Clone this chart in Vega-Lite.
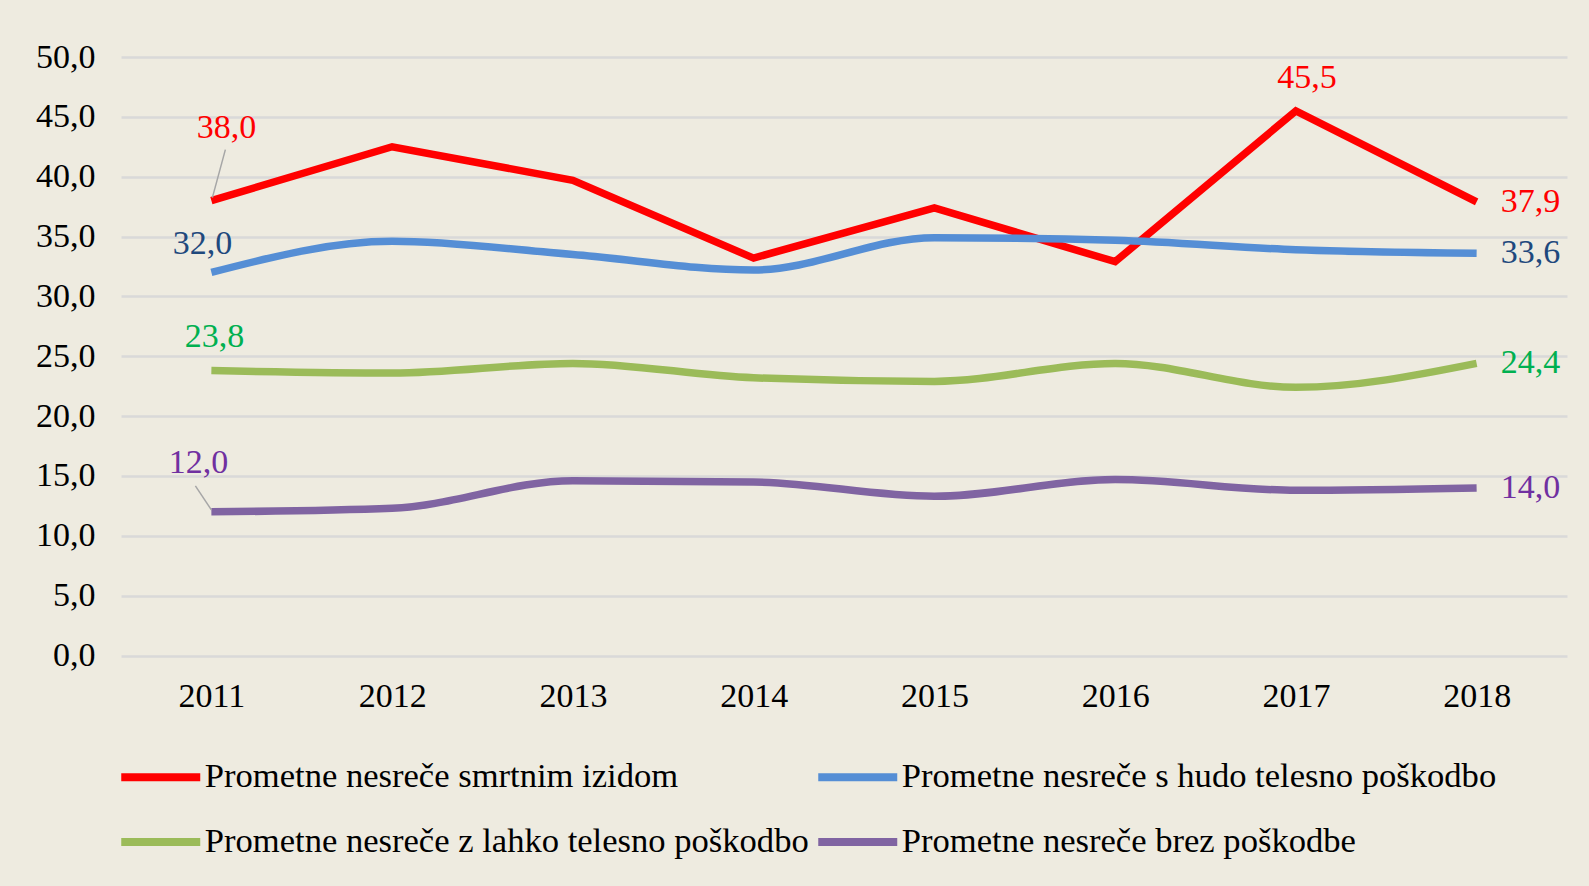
{
  "$schema": "https://vega.github.io/schema/vega-lite/v6.json",
  "width": 1446,
  "height": 598.5,
  "autosize": {"type": "none"},
  "padding": {"left": 121, "top": 57, "right": 22, "bottom": 230.5},
  "background": "#EEEBE0",
  "config": {
    "locale": {"number": {"decimal": ",", "thousands": ".", "grouping": [3], "currency": ["", " €"]}},
    "view": {"stroke": null},
    "font": "Liberation Serif"
  },
  "data": {
    "values": [
      {"year": "2011", "series": "Prometne nesreče smrtnim izidom", "value": 38.0},
      {"year": "2012", "series": "Prometne nesreče smrtnim izidom", "value": 42.5},
      {"year": "2013", "series": "Prometne nesreče smrtnim izidom", "value": 39.7},
      {"year": "2014", "series": "Prometne nesreče smrtnim izidom", "value": 33.2},
      {"year": "2015", "series": "Prometne nesreče smrtnim izidom", "value": 37.4},
      {"year": "2016", "series": "Prometne nesreče smrtnim izidom", "value": 32.9},
      {"year": "2017", "series": "Prometne nesreče smrtnim izidom", "value": 45.5},
      {"year": "2018", "series": "Prometne nesreče smrtnim izidom", "value": 37.9},
      {"year": "2011", "series": "Prometne nesreče s hudo telesno poškodbo", "value": 32.0},
      {"year": "2012", "series": "Prometne nesreče s hudo telesno poškodbo", "value": 34.6},
      {"year": "2013", "series": "Prometne nesreče s hudo telesno poškodbo", "value": 33.5},
      {"year": "2014", "series": "Prometne nesreče s hudo telesno poškodbo", "value": 32.2},
      {"year": "2015", "series": "Prometne nesreče s hudo telesno poškodbo", "value": 34.9},
      {"year": "2016", "series": "Prometne nesreče s hudo telesno poškodbo", "value": 34.7},
      {"year": "2017", "series": "Prometne nesreče s hudo telesno poškodbo", "value": 33.9},
      {"year": "2018", "series": "Prometne nesreče s hudo telesno poškodbo", "value": 33.6},
      {"year": "2011", "series": "Prometne nesreče z lahko telesno poškodbo", "value": 23.8},
      {"year": "2012", "series": "Prometne nesreče z lahko telesno poškodbo", "value": 23.6},
      {"year": "2013", "series": "Prometne nesreče z lahko telesno poškodbo", "value": 24.4},
      {"year": "2014", "series": "Prometne nesreče z lahko telesno poškodbo", "value": 23.2},
      {"year": "2015", "series": "Prometne nesreče z lahko telesno poškodbo", "value": 22.9},
      {"year": "2016", "series": "Prometne nesreče z lahko telesno poškodbo", "value": 24.4},
      {"year": "2017", "series": "Prometne nesreče z lahko telesno poškodbo", "value": 22.4},
      {"year": "2018", "series": "Prometne nesreče z lahko telesno poškodbo", "value": 24.4},
      {"year": "2011", "series": "Prometne nesreče brez poškodbe", "value": 12.0},
      {"year": "2012", "series": "Prometne nesreče brez poškodbe", "value": 12.3},
      {"year": "2013", "series": "Prometne nesreče brez poškodbe", "value": 14.6},
      {"year": "2014", "series": "Prometne nesreče brez poškodbe", "value": 14.5},
      {"year": "2015", "series": "Prometne nesreče brez poškodbe", "value": 13.3},
      {"year": "2016", "series": "Prometne nesreče brez poškodbe", "value": 14.7},
      {"year": "2017", "series": "Prometne nesreče brez poškodbe", "value": 13.8},
      {"year": "2018", "series": "Prometne nesreče brez poškodbe", "value": 14.0}
    ]
  },
  "encoding": {
    "x": {
      "field": "year", "type": "ordinal",
      "scale": {"type": "point", "padding": 0.5},
      "axis": {"title": null, "labelAngle": 0, "domain": false, "ticks": false, "grid": false,
               "labelFontSize": 34, "labelColor": "#000000", "labelPadding": 24, "labelFont": "Liberation Serif"}
    },
    "y": {
      "field": "value", "type": "quantitative",
      "scale": {"domain": [0, 50], "nice": false},
      "axis": {"title": null, "values": [0, 5, 10, 15, 20, 25, 30, 35, 40, 45, 50], "format": ".1f",
               "domain": false, "ticks": false, "grid": true, "gridColor": "#D9D9D9", "gridWidth": 2.5,
               "labelFontSize": 34, "labelColor": "#000000", "labelPadding": 26, "labelFont": "Liberation Serif"}
    }
  },
  "layer": [
    {
      "transform": [{"filter": "datum.series == 'Prometne nesreče smrtnim izidom'"}],
      "mark": {"type": "line", "strokeWidth": 7.5, "interpolate": "linear"},
      "encoding": {
        "color": {
          "field": "series", "type": "nominal",
          "scale": {
            "domain": ["Prometne nesreče smrtnim izidom", "Prometne nesreče s hudo telesno poškodbo", "Prometne nesreče z lahko telesno poškodbo", "Prometne nesreče brez poškodbe"],
            "range": ["#FF0000", "#558ED5", "#9BBB59", "#8064A2"]
          },
          "legend": {
            "title": null, "orient": "none", "direction": "horizontal", "legendX": 15.75, "legendY": 696, "columns": 2,
            "symbolType": "M-2,0L2,0", "symbolSize": 1560, "symbolStrokeWidth": 8,
            "labelFontSize": 34.6, "labelFont": "Liberation Serif", "labelColor": "#000000",
            "labelOffset": 20, "rowPadding": 24, "columnPadding": -7, "labelLimit": 1000, "padding": 0
          }
        }
      }
    },
    {
      "transform": [{"filter": "datum.series != 'Prometne nesreče smrtnim izidom'"}],
      "mark": {"type": "line", "strokeWidth": 7.5, "interpolate": "monotone"},
      "encoding": {"color": {"field": "series", "type": "nominal"}}
    },
    {
      "transform": [{"filter": "datum.year == '2011' && datum.series == 'Prometne nesreče smrtnim izidom'"}],
      "mark": {"type": "rule", "color": "#A6A6A6", "strokeWidth": 1.5, "xOffset": 1, "yOffset": -3, "x2Offset": 14, "y2Offset": -51},
      "encoding": {"x2": {"field": "year"}, "y2": {"field": "value"}}
    },
    {
      "transform": [{"filter": "datum.year == '2011' && datum.series == 'Prometne nesreče brez poškodbe'"}],
      "mark": {"type": "rule", "color": "#A6A6A6", "strokeWidth": 1.5, "xOffset": 0, "yOffset": -2, "x2Offset": -16, "y2Offset": -26},
      "encoding": {"x2": {"field": "year"}, "y2": {"field": "value"}}
    },
    {
      "transform": [{"filter": "datum.year == '2011' && datum.series == 'Prometne nesreče smrtnim izidom'"}],
      "mark": {"type": "text", "fontSize": 34, "font": "Liberation Serif", "align": "center", "baseline": "alphabetic", "dx": 15, "dy": -63},
      "encoding": {
        "text": {"field": "value", "type": "quantitative", "format": ".1f"},
        "fill": {"field": "series", "type": "nominal", "legend": null,
                 "scale": {"domain": ["Prometne nesreče smrtnim izidom", "Prometne nesreče s hudo telesno poškodbo", "Prometne nesreče z lahko telesno poškodbo", "Prometne nesreče brez poškodbe"],
                           "range": ["#FF0000", "#1F497D", "#00B050", "#7030A0"]}}
      }
    },
    {
      "transform": [{"filter": "datum.year == '2011' && datum.series == 'Prometne nesreče s hudo telesno poškodbo'"}],
      "mark": {"type": "text", "fontSize": 34, "font": "Liberation Serif", "align": "center", "baseline": "alphabetic", "dx": -9, "dy": -18},
      "encoding": {
        "text": {"field": "value", "type": "quantitative", "format": ".1f"},
        "fill": {"field": "series", "type": "nominal", "legend": null}
      }
    },
    {
      "transform": [{"filter": "datum.year == '2011' && datum.series == 'Prometne nesreče z lahko telesno poškodbo'"}],
      "mark": {"type": "text", "fontSize": 34, "font": "Liberation Serif", "align": "center", "baseline": "alphabetic", "dx": 3, "dy": -24},
      "encoding": {
        "text": {"field": "value", "type": "quantitative", "format": ".1f"},
        "fill": {"field": "series", "type": "nominal", "legend": null}
      }
    },
    {
      "transform": [{"filter": "datum.year == '2011' && datum.series == 'Prometne nesreče brez poškodbe'"}],
      "mark": {"type": "text", "fontSize": 34, "font": "Liberation Serif", "align": "center", "baseline": "alphabetic", "dx": -13, "dy": -39},
      "encoding": {
        "text": {"field": "value", "type": "quantitative", "format": ".1f"},
        "fill": {"field": "series", "type": "nominal", "legend": null}
      }
    },
    {
      "transform": [{"filter": "datum.year == '2017' && datum.series == 'Prometne nesreče smrtnim izidom'"}],
      "mark": {"type": "text", "fontSize": 34, "font": "Liberation Serif", "align": "center", "baseline": "alphabetic", "dx": 11, "dy": -23},
      "encoding": {
        "text": {"field": "value", "type": "quantitative", "format": ".1f"},
        "fill": {"field": "series", "type": "nominal", "legend": null}
      }
    },
    {
      "transform": [{"filter": "datum.year == '2018'"}],
      "mark": {"type": "text", "fontSize": 34, "font": "Liberation Serif", "align": "left", "baseline": "alphabetic", "dx": 24, "dy": 10},
      "encoding": {
        "text": {"field": "value", "type": "quantitative", "format": ".1f"},
        "fill": {"field": "series", "type": "nominal", "legend": null}
      }
    }
  ]
}
